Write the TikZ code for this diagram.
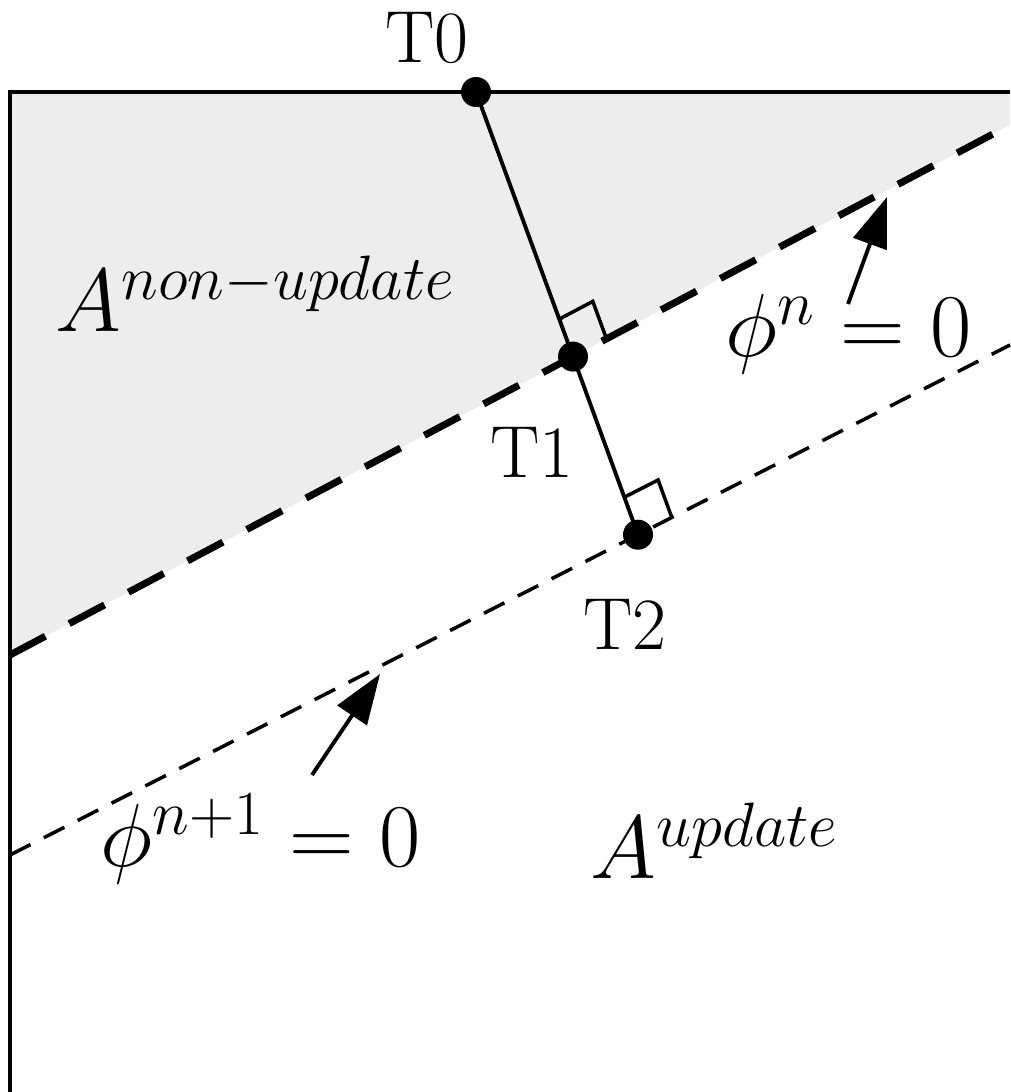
\RequirePackage{fix-cm}
\documentclass[tikz,border=0pt]{standalone}
\usepackage{amsmath}
\usetikzlibrary{calc}
\usetikzlibrary{arrows.meta}

\begin{document}
\begin{tikzpicture}[font=\fontsize{21}{25}\selectfont,
  dot/.style={circle, fill=black, inner sep=0pt, minimum size=0.3cm},
  bigmath/.style={font=\fontsize{25.5}{30}\selectfont, inner sep=0pt, anchor=base west},
  pointer/.style={line width=1.1pt, -{Triangle[length=0.5cm, width=0.35cm]}},
  rightmark/.style={line width=1pt}]
\useasboundingbox (0,0) rectangle (10.10,10.92);
\coordinate (nW) at (0.10,4.37);
\coordinate (nE) at (10.10,9.67);
\coordinate (mW) at (0.10,2.37);
\coordinate (mE) at (10.10,7.47);
\fill[black!7] (0.10,10.00) -- (10.10,10.00) -- (nE) -- (nW) -- cycle;
\draw[line width=1.1pt] (0.10,0) -- (0.10,10.00) -- (10.10,10.00);
\draw[line width=2pt, dash pattern=on 0.4cm off 0.27cm] (nW) -- (nE);
\draw[line width=1pt, dash pattern=on 0.23cm off 0.15cm] (mW) -- (mE);
\node[dot] (T0) at (4.76,10.00) {};
\node[dot] (T1) at ($(nW)!0.563!(nE)$) {};
\node[dot] (T2) at ($(mW)!0.628!(mE)$) {};
\draw[line width=1.1pt] (T0.center) -- (T1.center) -- (T2.center);
\draw[rightmark] (T1.center) ++(-0.137,0.375) -- ++(0.335,0.177) -- ++(0.137,-0.375);
\draw[rightmark] (T2.center) ++(-0.137,0.375) -- ++(0.338,0.172) -- ++(0.137,-0.375);
\coordinate (nTail) at (8.48,7.88);
\coordinate (nTip) at (8.87,8.95);
\coordinate (mTail) at (3.12,3.17);
\coordinate (mTip) at (3.80,4.18);
\draw[pointer] (nTail) -- (nTip);
\draw[pointer] (mTail) -- (mTip);
\node[anchor=base] (lT0) at (4.27,10.29) {T0};
\node[anchor=base] (lT1) at (5.32,6.14) {T1};
\node[anchor=base] (lT2) at (6.25,4.42) {T2};
\node[bigmath] (Anon) at (0.55,7.60) {$A^{non-update}$};
\node[bigmath] (Aup) at (5.90,2.13) {$A^{update}$};
\node[bigmath] (phin) at (7.25,7.35) {$\phi^{n} = 0$};
\node[bigmath] (phim) at (1.00,2.25) {$\phi^{n+1} = 0$};
\end{tikzpicture}
\end{document}
